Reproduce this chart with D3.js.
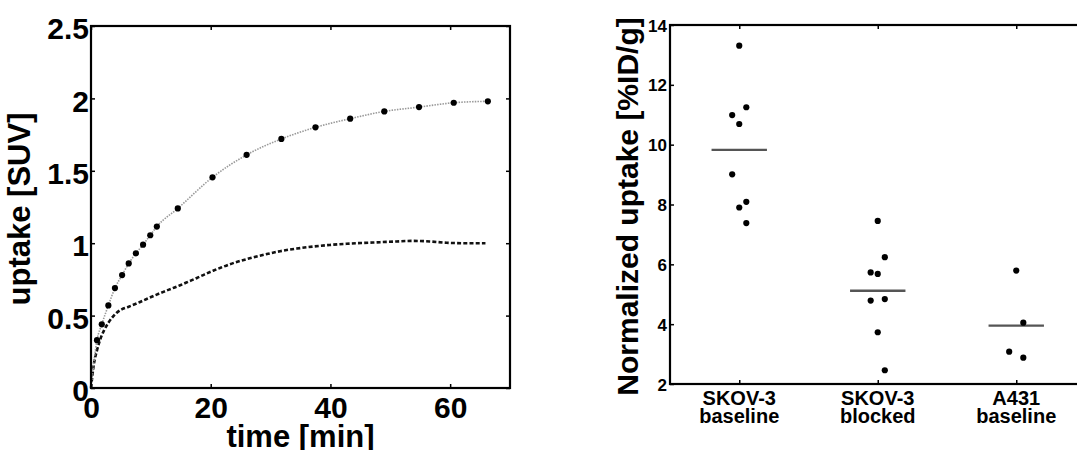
<!DOCTYPE html>
<html>
<head>
<meta charset="utf-8">
<script src="https://cdn.jsdelivr.net/npm/d3@7/dist/d3.min.js"></script>
<style>
  html, body { margin: 0; padding: 0; background: #fff; }
  svg { display: block; }
  text { font-family: "Liberation Sans", Arial, Helvetica, sans-serif; font-weight: bold; fill: #000; }
</style>
</head>
<body>
<svg id="chart" width="1077" height="450"></svg>
<script>
// ---- Time–activity curves (left panel) ----
// sampled frames with markers (upper curve)
const frameTimes  = [0, 1.0, 1.8, 2.9, 4.0, 5.2, 6.3, 7.5, 8.7, 9.9, 11.0, 14.5, 20.3, 26.0, 31.8, 37.5, 43.3, 49.0, 54.8, 60.6, 66.3];
const frameUptake = [0, 0.33, 0.44, 0.57, 0.69, 0.78, 0.86, 0.93, 0.99, 1.055, 1.115, 1.24, 1.455, 1.61, 1.72, 1.80, 1.86, 1.91, 1.94, 1.97, 1.98];
// second curve (dashed, no markers)
const curveTimes  = [0, 0.5, 1.0, 1.5, 2.2, 2.9, 3.6, 4.3, 5.2, 6.2, 7.7, 9.3, 10.7, 12.1, 13.5, 14.9, 16.3, 17.7, 19.0, 20.4, 21.8, 23.2, 26.0, 29.4, 31.6, 34.4, 37.1, 39.9, 42.7, 45.5, 48.3, 51.0, 53.8, 56.6, 59.4, 62.6, 65.9];
const curveUptake = [0, 0.17, 0.26, 0.33, 0.40, 0.45, 0.49, 0.52, 0.545, 0.56, 0.585, 0.615, 0.64, 0.664, 0.687, 0.71, 0.735, 0.76, 0.785, 0.81, 0.833, 0.855, 0.89, 0.925, 0.945, 0.963, 0.977, 0.988, 0.996, 1.002, 1.007, 1.012, 1.016, 1.012, 1.003, 1.0, 1.0];
const timeTicks   = [0, 20, 40, 60];
const suvTicks    = [0, 0.5, 1, 1.5, 2, 2.5];

// ---- Normalized uptake per group (right panel) ----
const groupLabels  = [["SKOV-3", "baseline"], ["SKOV-3", "blocked"], ["A431", "baseline"]];
const groupValues  = [
  [13.31, 11.25, 10.99, 10.69, 9.01, 8.09, 7.90, 7.38],
  [7.45, 6.24, 5.73, 5.68, 4.79, 4.84, 3.73, 2.46],
  [5.79, 4.05, 3.08, 2.88]
];
// horizontal spreading of overlapping points (-1 left, 0 centre, +1 right)
const groupSpread  = [
  [0, 1, -1, 0, -1, 1, 0, 1],
  [0, 1, -1, 0, -1, 1, 0, 1],
  [0, 1, -1, 1]
];
const uptakeTicks  = [2, 4, 6, 8, 10, 12, 14];

const svg = d3.select("#chart");

// ================= left panel =================
const L = { left: 91, right: 510, top: 26, bottom: 388 };
const xT = d3.scaleLinear().domain([0, 70]).range([L.left, L.right]);
const yS = d3.scaleLinear().domain([0, 2.5]).range([L.bottom, L.top]);

const left = svg.append("g");

function styleAxis(g, fontSize) {
  g.select(".domain").remove();
  g.selectAll(".tick line").attr("stroke", "#000").attr("stroke-width", 1.5);
  g.selectAll(".tick text").attr("font-size", fontSize)
    .attr("font-family", "Liberation Sans, Arial, sans-serif").attr("font-weight", "bold").attr("fill", "#000");
}

left.append("g").attr("transform", `translate(0,${L.bottom})`)
  .call(d3.axisBottom(xT).tickValues(timeTicks).tickSizeInner(-4).tickSizeOuter(0))
  .call(g => styleAxis(g, 30))
  .call(g => g.selectAll(".tick text").attr("y", 9).attr("dy", "0.71em"));
left.append("g").attr("transform", `translate(0,${L.top})`)
  .call(d3.axisTop(xT).tickValues(timeTicks).tickSizeInner(-4).tickSizeOuter(0).tickFormat(""))
  .call(g => styleAxis(g, 30));
left.append("g").attr("transform", `translate(${L.left},0)`)
  .call(d3.axisLeft(yS).tickValues(suvTicks).tickSizeInner(-4).tickSizeOuter(0).tickFormat(d3.format("")))
  .call(g => styleAxis(g, 30))
  .call(g => g.selectAll(".tick text").attr("x", -2).attr("dy", "0.42em"));
left.append("g").attr("transform", `translate(${L.right},0)`)
  .call(d3.axisRight(yS).tickValues(suvTicks).tickSizeInner(-4).tickSizeOuter(0).tickFormat(""))
  .call(g => styleAxis(g, 30));

const frames = frameTimes.map((t, i) => ({ t, v: frameUptake[i] }));
const curve  = curveTimes.map((t, i) => ({ t, v: curveUptake[i] }));
const line = d3.line().x(d => xT(d.t)).y(d => yS(d.v)).curve(d3.curveMonotoneX);

left.append("path").datum(curve).attr("d", line)
  .attr("fill", "none").attr("stroke", "#111").attr("stroke-width", 2.6)
  .attr("stroke-dasharray", "4,2.2");
left.append("path").datum(frames).attr("d", line)
  .attr("fill", "none").attr("stroke", "#999").attr("stroke-width", 1.6)
  .attr("stroke-dasharray", "1.5,1.2");
left.selectAll("circle.frame").data(frames.slice(1)).join("circle")
  .attr("class", "frame")
  .attr("cx", d => xT(d.t)).attr("cy", d => yS(d.v)).attr("r", 3.1).attr("fill", "#000");

left.append("rect")
  .attr("x", L.left).attr("y", L.top).attr("width", L.right - L.left).attr("height", L.bottom - L.top)
  .attr("fill", "none").attr("stroke", "#000").attr("stroke-width", 2.2);

left.append("text").attr("x", (L.left + L.right) / 2).attr("y", 447)
  .attr("text-anchor", "middle").attr("font-size", 31).text("time [min]");
left.append("text")
  .attr("transform", `translate(30,${(L.top + L.bottom) / 2 + 2}) rotate(-90)`)
  .attr("text-anchor", "middle").attr("font-size", 31).text("uptake [SUV]");

// ================= right panel =================
const R = { left: 670, right: 1085.5, top: 25, bottom: 384 };
const xG = d3.scaleLinear().domain([0.5, 3.5]).range([R.left, R.right]);
const yU = d3.scaleLinear().domain([2, 14]).range([R.bottom, R.top]);
const spreadStep = 0.051;
const meanHalf = 0.2;

const right = svg.append("g");

right.append("g").attr("transform", `translate(0,${R.bottom})`)
  .call(d3.axisBottom(xG).tickValues([1, 2, 3]).tickSizeInner(-4).tickSizeOuter(0).tickFormat(""))
  .call(g => styleAxis(g, 20));
right.append("g").attr("transform", `translate(0,${R.top})`)
  .call(d3.axisTop(xG).tickValues([1, 2, 3]).tickSizeInner(-4).tickSizeOuter(0).tickFormat(""))
  .call(g => styleAxis(g, 20));
right.append("g").attr("transform", `translate(${R.left},0)`)
  .call(d3.axisLeft(yU).tickValues(uptakeTicks).tickSizeInner(-4).tickSizeOuter(0))
  .call(g => styleAxis(g, 17))
  .call(g => g.selectAll(".tick text").attr("x", -3).attr("dy", "0.36em"));
right.append("g").attr("transform", `translate(${R.right},0)`)
  .call(d3.axisRight(yU).tickValues(uptakeTicks).tickSizeInner(-4).tickSizeOuter(0).tickFormat(""))
  .call(g => styleAxis(g, 17));

// category labels under the axis
const catG = right.selectAll("g.cat").data(groupLabels).join("g").attr("class", "cat");
catG.append("text").attr("x", (d, i) => xG(i + 1)).attr("y", 405)
  .attr("text-anchor", "middle").attr("font-size", 20).text(d => d[0]);
catG.append("text").attr("x", (d, i) => xG(i + 1)).attr("y", 423)
  .attr("text-anchor", "middle").attr("font-size", 20).text(d => d[1]);

// group means
right.selectAll("line.mean").data(groupValues).join("line")
  .attr("class", "mean")
  .attr("x1", (d, i) => xG(i + 1 - meanHalf)).attr("x2", (d, i) => xG(i + 1 + meanHalf))
  .attr("y1", d => yU(d3.mean(d))).attr("y2", d => yU(d3.mean(d)))
  .attr("stroke", "#555").attr("stroke-width", 2.4);

// individual animals
const pts = groupValues.flatMap((vals, gi) => vals.map((v, k) => ({ g: gi + 1, v, s: groupSpread[gi][k] })));
right.selectAll("circle.pt").data(pts).join("circle")
  .attr("class", "pt")
  .attr("cx", d => xG(d.g + d.s * spreadStep)).attr("cy", d => yU(d.v))
  .attr("r", 3.1).attr("fill", "#000");

right.append("rect")
  .attr("x", R.left).attr("y", R.top).attr("width", R.right - R.left).attr("height", R.bottom - R.top)
  .attr("fill", "none").attr("stroke", "#000").attr("stroke-width", 2.2);

right.append("text")
  .attr("transform", `translate(638,${(R.top + R.bottom) / 2 + 2}) rotate(-90)`)
  .attr("text-anchor", "middle").attr("font-size", 30).text("Normalized uptake [%ID/g]");
</script>
</body>
</html>
